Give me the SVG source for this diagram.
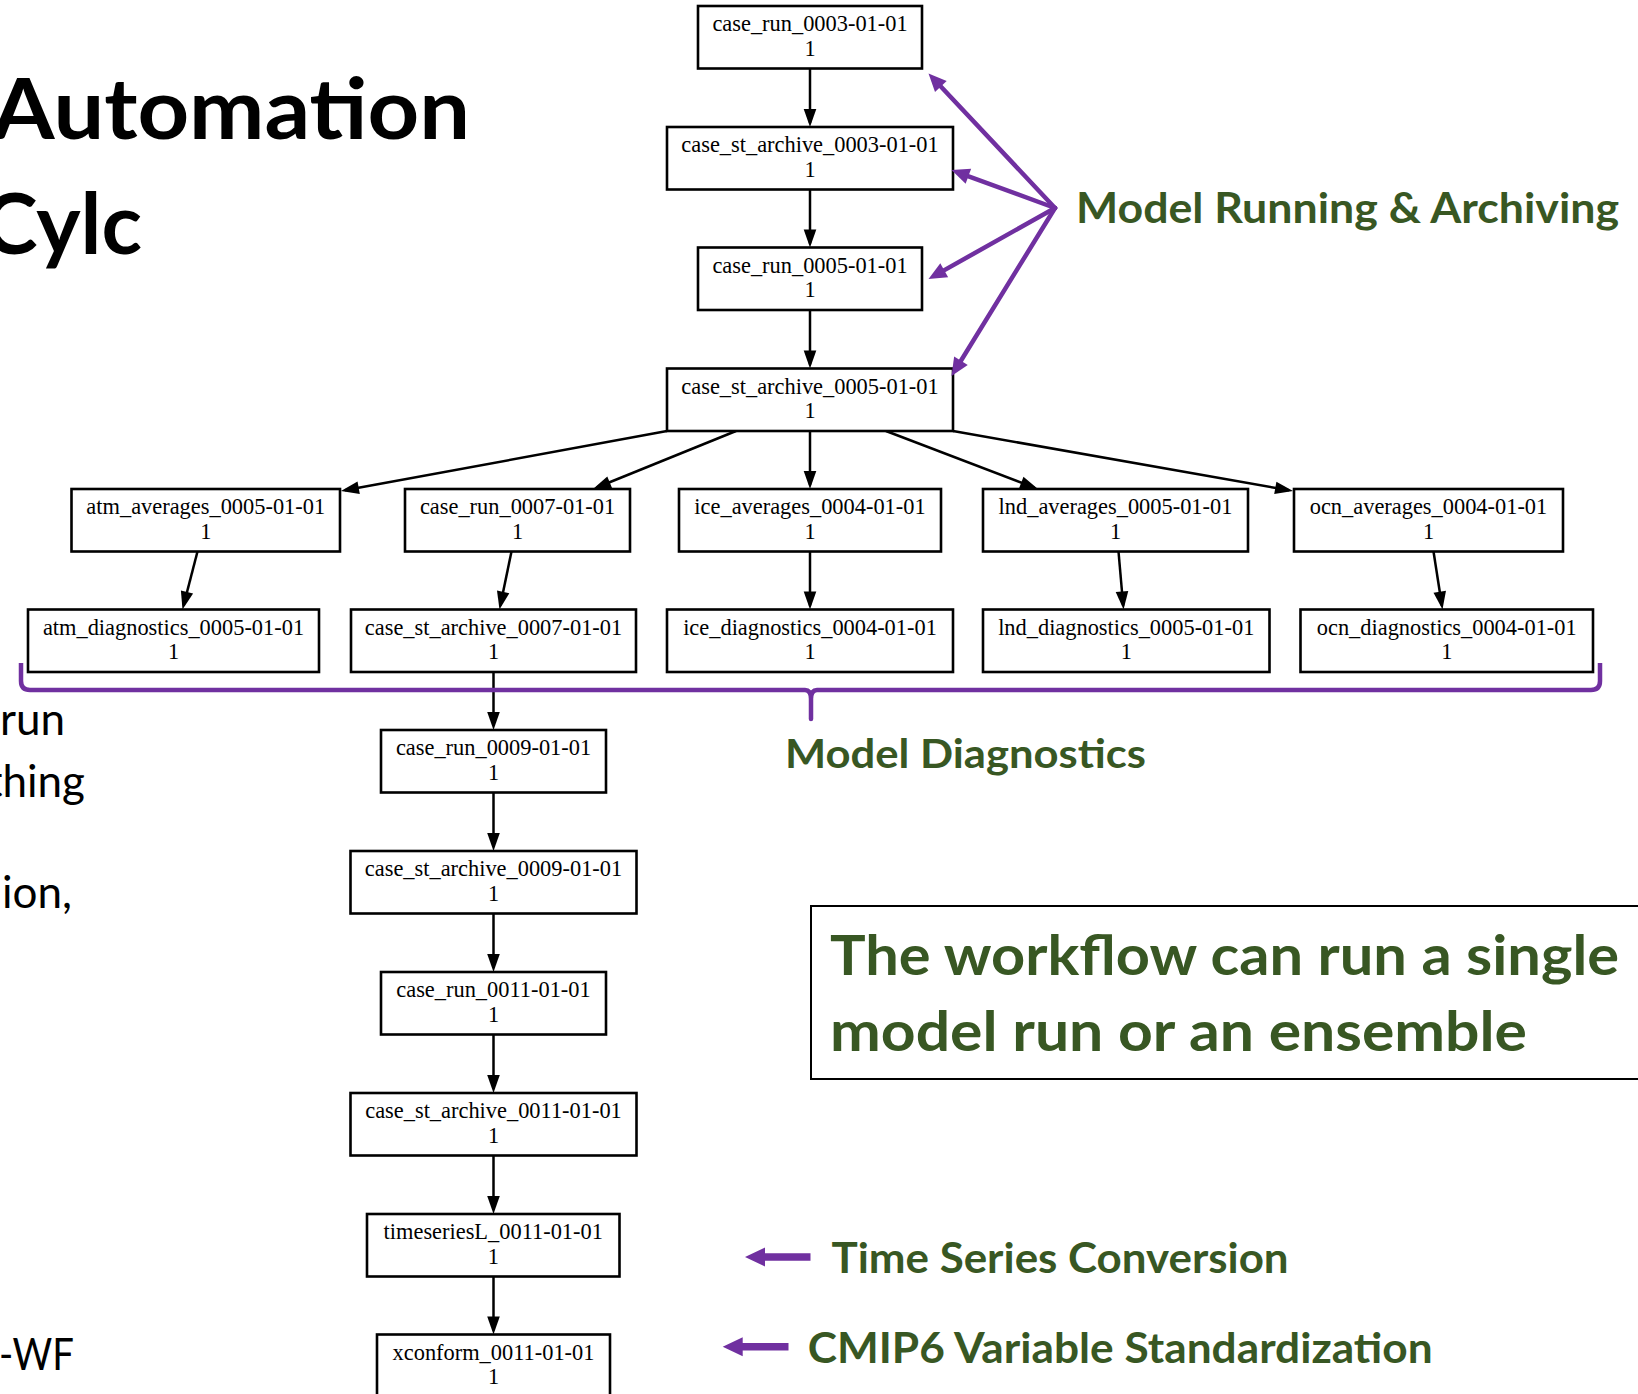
<svg xmlns="http://www.w3.org/2000/svg" width="1638" height="1394" viewBox="0 0 1638 1394">
  <style>
    .node rect { fill: #fff; stroke: #000; stroke-width: 2.6; }
    .node text { font-family: "Liberation Serif", "Times New Roman", serif; font-size: 22.4px; text-anchor: middle; fill: #000; }
    .edge { stroke: #000; stroke-width: 2.5; fill: none; }
    .callout { stroke: #7030A0; stroke-width: 4.5; fill: none; stroke-linecap: round; }
    .brace { stroke: #7030A0; stroke-width: 4.5; fill: none; stroke-linejoin: round; }
    .block { fill: #7030A0; }
    .lbl { font-family: Lato, "Open Sans", sans-serif; font-weight: bold; fill: #385723; }
    .slide { font-family: Lato, "Open Sans", sans-serif; fill: #000; }
  </style>
  <defs>
    <marker id="arrowK" markerUnits="userSpaceOnUse" markerWidth="18" markerHeight="12.6" viewBox="0 0 18 12.6" refX="14" refY="6.3" orient="auto" overflow="visible">
      <path d="M0,0 L18,6.3 L0,12.6 z" fill="#000"/>
    </marker>
    <marker id="arrowP" markerUnits="userSpaceOnUse" markerWidth="18" markerHeight="16" viewBox="0 0 18 16" refX="10" refY="8" orient="auto" overflow="visible">
      <path d="M0,0 L18,8 L0,16 z" fill="#7030A0"/>
    </marker>
  </defs>
  <rect x="0" y="0" width="1638" height="1394" fill="#fff"/>

  <!-- slide text, clipped at the left edge -->
  <g id="slide-text">
    <text class="slide" x="-8" y="139" font-size="85" font-weight="bold" textLength="478" lengthAdjust="spacingAndGlyphs">Automation</text>
    <text class="slide" x="-18" y="254" font-size="85" font-weight="bold" textLength="160" lengthAdjust="spacingAndGlyphs">Cylc</text>
    <text class="slide" x="65" y="735" font-size="44" text-anchor="end">run</text>
    <text class="slide" x="85" y="797" font-size="44" text-anchor="end">thing</text>
    <text class="slide" x="72" y="908" font-size="44" text-anchor="end">ion,</text>
    <text class="slide" x="-1" y="1370" font-size="44" textLength="75" lengthAdjust="spacingAndGlyphs">-WF</text>
  </g>

  <!-- task dependency edges -->
  <g id="edges">
    <line class="edge" x1="810" y1="68.5" x2="810" y2="123" marker-end="url(#arrowK)"/>
    <line class="edge" x1="810" y1="189.5" x2="810" y2="243.5" marker-end="url(#arrowK)"/>
    <line class="edge" x1="810" y1="310" x2="810" y2="364.5" marker-end="url(#arrowK)"/>
    <line class="edge" x1="667" y1="431" x2="344.9" y2="490.3" marker-end="url(#arrowK)"/>
    <line class="edge" x1="736" y1="431" x2="596.7" y2="487.5" marker-end="url(#arrowK)"/>
    <line class="edge" x1="810" y1="431" x2="810" y2="485" marker-end="url(#arrowK)"/>
    <line class="edge" x1="886" y1="431" x2="1034.3" y2="487.6" marker-end="url(#arrowK)"/>
    <line class="edge" x1="953" y1="431" x2="1289.1" y2="490.3" marker-end="url(#arrowK)"/>
    <line class="edge" x1="197.5" y1="551.5" x2="183.5" y2="605.6" marker-end="url(#arrowK)"/>
    <line class="edge" x1="511.5" y1="551.5" x2="500.3" y2="605.6" marker-end="url(#arrowK)"/>
    <line class="edge" x1="810" y1="551.5" x2="810" y2="605.5" marker-end="url(#arrowK)"/>
    <line class="edge" x1="1118.5" y1="551.5" x2="1123.2" y2="605.5" marker-end="url(#arrowK)"/>
    <line class="edge" x1="1433.5" y1="551.5" x2="1441.9" y2="605.5" marker-end="url(#arrowK)"/>
    <line class="edge" x1="493.5" y1="672" x2="493.5" y2="726" marker-end="url(#arrowK)"/>
    <line class="edge" x1="493.5" y1="792.5" x2="493.5" y2="847" marker-end="url(#arrowK)"/>
    <line class="edge" x1="493.5" y1="913.5" x2="493.5" y2="968" marker-end="url(#arrowK)"/>
    <line class="edge" x1="493.5" y1="1034.5" x2="493.5" y2="1089" marker-end="url(#arrowK)"/>
    <line class="edge" x1="493.5" y1="1155.5" x2="493.5" y2="1210" marker-end="url(#arrowK)"/>
    <line class="edge" x1="493.5" y1="1276.5" x2="493.5" y2="1330.5" marker-end="url(#arrowK)"/>
  </g>

  <!-- task nodes -->
  <g id="case_run_0003" class="node">
    <rect x="698" y="6" width="224" height="62.5"/>
    <text x="810" y="31">case_run_0003-01-01</text><text x="810" y="55.5">1</text>
  </g>
  <g id="case_st_archive_0003" class="node">
    <rect x="667" y="127" width="286" height="62.5"/>
    <text x="810" y="152">case_st_archive_0003-01-01</text><text x="810" y="176.5">1</text>
  </g>
  <g id="case_run_0005" class="node">
    <rect x="698" y="247.5" width="224" height="62.5"/>
    <text x="810" y="272.5">case_run_0005-01-01</text><text x="810" y="297">1</text>
  </g>
  <g id="case_st_archive_0005" class="node">
    <rect x="667" y="368.5" width="286" height="62.5"/>
    <text x="810" y="393.5">case_st_archive_0005-01-01</text><text x="810" y="418">1</text>
  </g>
  <g id="atm_averages_0005" class="node">
    <rect x="71.5" y="489" width="268.5" height="62.5"/>
    <text x="205.75" y="514">atm_averages_0005-01-01</text><text x="205.75" y="538.5">1</text>
  </g>
  <g id="case_run_0007" class="node">
    <rect x="405" y="489" width="225" height="62.5"/>
    <text x="517.5" y="514">case_run_0007-01-01</text><text x="517.5" y="538.5">1</text>
  </g>
  <g id="ice_averages_0004" class="node">
    <rect x="679" y="489" width="262" height="62.5"/>
    <text x="810" y="514">ice_averages_0004-01-01</text><text x="810" y="538.5">1</text>
  </g>
  <g id="lnd_averages_0005" class="node">
    <rect x="983" y="489" width="265" height="62.5"/>
    <text x="1115.5" y="514">lnd_averages_0005-01-01</text><text x="1115.5" y="538.5">1</text>
  </g>
  <g id="ocn_averages_0004" class="node">
    <rect x="1294" y="489" width="269" height="62.5"/>
    <text x="1428.5" y="514">ocn_averages_0004-01-01</text><text x="1428.5" y="538.5">1</text>
  </g>
  <g id="atm_diagnostics_0005" class="node">
    <rect x="28" y="609.5" width="291" height="62.5"/>
    <text x="173.5" y="634.5">atm_diagnostics_0005-01-01</text><text x="173.5" y="659">1</text>
  </g>
  <g id="case_st_archive_0007" class="node">
    <rect x="351" y="609.5" width="285" height="62.5"/>
    <text x="493.5" y="634.5">case_st_archive_0007-01-01</text><text x="493.5" y="659">1</text>
  </g>
  <g id="ice_diagnostics_0004" class="node">
    <rect x="667" y="609.5" width="286" height="62.5"/>
    <text x="810" y="634.5">ice_diagnostics_0004-01-01</text><text x="810" y="659">1</text>
  </g>
  <g id="lnd_diagnostics_0005" class="node">
    <rect x="983" y="609.5" width="286.5" height="62.5"/>
    <text x="1126.25" y="634.5">lnd_diagnostics_0005-01-01</text><text x="1126.25" y="659">1</text>
  </g>
  <g id="ocn_diagnostics_0004" class="node">
    <rect x="1300.5" y="609.5" width="292.5" height="62.5"/>
    <text x="1446.75" y="634.5">ocn_diagnostics_0004-01-01</text><text x="1446.75" y="659">1</text>
  </g>
  <g id="case_run_0009" class="node">
    <rect x="381" y="730" width="225" height="62.5"/>
    <text x="493.5" y="755">case_run_0009-01-01</text><text x="493.5" y="779.5">1</text>
  </g>
  <g id="case_st_archive_0009" class="node">
    <rect x="350.5" y="851" width="286" height="62.5"/>
    <text x="493.5" y="876">case_st_archive_0009-01-01</text><text x="493.5" y="900.5">1</text>
  </g>
  <g id="case_run_0011" class="node">
    <rect x="381" y="972" width="225" height="62.5"/>
    <text x="493.5" y="997">case_run_0011-01-01</text><text x="493.5" y="1021.5">1</text>
  </g>
  <g id="case_st_archive_0011" class="node">
    <rect x="350.5" y="1093" width="286" height="62.5"/>
    <text x="493.5" y="1118">case_st_archive_0011-01-01</text><text x="493.5" y="1142.5">1</text>
  </g>
  <g id="timeseriesL_0011" class="node">
    <rect x="367" y="1214" width="252.5" height="62.5"/>
    <text x="493.25" y="1239">timeseriesL_0011-01-01</text><text x="493.25" y="1263.5">1</text>
  </g>
  <g id="xconform_0011" class="node">
    <rect x="377" y="1334.5" width="233" height="80"/>
    <text x="493.5" y="1359.5">xconform_0011-01-01</text><text x="493.5" y="1384">1</text>
  </g>

  <!-- annotations -->
  <g id="running-archiving">
    <line class="callout" x1="1055" y1="208" x2="934" y2="79.3" marker-end="url(#arrowP)"/>
    <line class="callout" x1="1055" y1="208" x2="959" y2="172.8" marker-end="url(#arrowP)"/>
    <line class="callout" x1="1055" y1="208" x2="935.5" y2="275.1" marker-end="url(#arrowP)"/>
    <line class="callout" x1="1055" y1="208" x2="955.7" y2="369.2" marker-end="url(#arrowP)"/>
    <text class="lbl" x="1076" y="223.3" font-size="42" textLength="543" lengthAdjust="spacingAndGlyphs">Model Running &amp; Archiving</text>
  </g>
  <g id="diagnostics">
    <path class="brace" d="M21,663 V681 Q21,690 30,690 H805 Q811,690 811,699 V719 V699 Q811,690 817,690 H1591 Q1600,690 1600,681 V663"/>
    <text class="lbl" x="785" y="767.5" font-size="41" textLength="361" lengthAdjust="spacingAndGlyphs">Model Diagnostics</text>
  </g>
  <g id="ensemble-note">
    <rect x="811" y="906" width="900" height="173" fill="none" stroke="#000" stroke-width="2"/>
    <text class="lbl" x="830" y="975" font-size="56" textLength="789" lengthAdjust="spacingAndGlyphs">The workflow can run a single</text>
    <text class="lbl" x="830" y="1050.5" font-size="56" textLength="697" lengthAdjust="spacingAndGlyphs">model run or an ensemble</text>
  </g>
  <g id="timeseries-note">
    <polygon class="block" points="745,1257 765,1247.5 765,1253.3 810.5,1253.3 810.5,1260.7 765,1260.7 765,1266.5"/>
    <text class="lbl" x="831.6" y="1272.7" font-size="42" textLength="457" lengthAdjust="spacingAndGlyphs">Time Series Conversion</text>
  </g>
  <g id="cmip6-note">
    <polygon class="block" points="722.7,1346.7 742.7,1337.2 742.7,1343 788.5,1343 788.5,1350.4 742.7,1350.4 742.7,1356.2"/>
    <text class="lbl" x="807.7" y="1362.7" font-size="42" textLength="625" lengthAdjust="spacingAndGlyphs">CMIP6 Variable Standardization</text>
  </g>
</svg>
